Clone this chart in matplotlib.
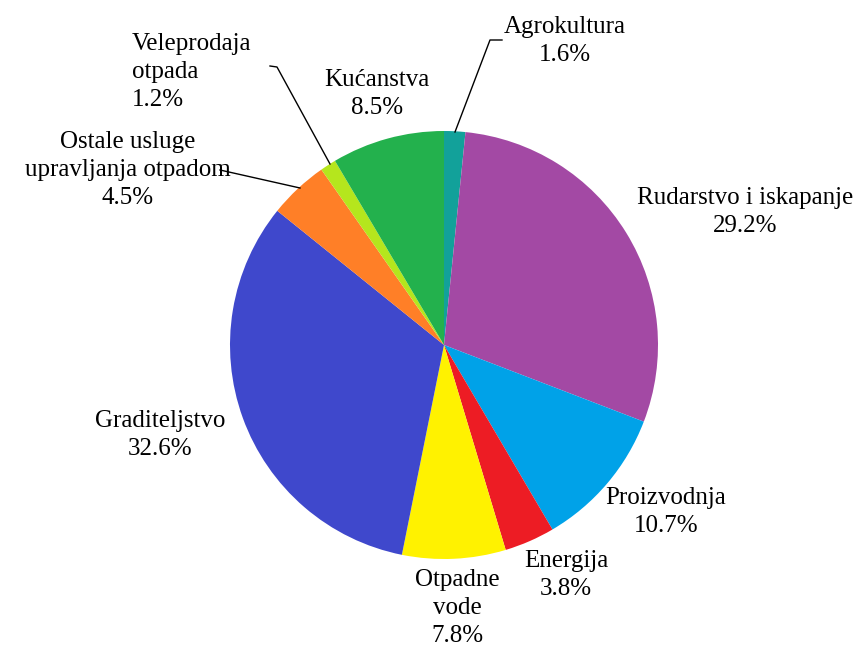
import matplotlib.pyplot as plt

# sectors, clockwise from the top
labels = ['Agrokultura', 'Rudarstvo i iskapanje', 'Proizvodnja', 'Energija',
          'Otpadne\nvode', 'Graditeljstvo', 'Ostale usluge\nupravljanja otpadom',
          'Veleprodaja\notpada', 'Kućanstva']
shares = [1.6, 29.2, 10.7, 3.8, 7.8, 32.6, 4.5, 1.2, 8.5]
colors = ['#12A19A', '#A349A4', '#00A2E8', '#ED1C24', '#FFF200',
          '#3F48CC', '#FF7F27', '#B5E61D', '#23B14D']

plt.rcParams['font.family'] = ['Liberation Serif', 'DejaVu Serif']

W, H = 858, 648
fig = plt.figure(figsize=(W / 100, H / 100), dpi=100)
ax = fig.add_axes([0, 0, 1, 1])

cx, cy, r = 444, H - 345, 214
ax.pie(shares, colors=colors, startangle=90, counterclock=False,
       center=(cx, cy), radius=r, frame=True,
       wedgeprops=dict(linewidth=0))
ax.set_xlim(0, W)
ax.set_ylim(0, H)
ax.set_aspect('equal')
ax.axis('off')

# label positions in pixels (x, y from top), alignment
pos = [
    (565, 41, 'center'),
    (745, 212, 'center'),
    (666, 512, 'center'),
    (566, 575, 'center'),
    (457, 608, 'center'),
    (160, 435, 'center'),
    (128, 170, 'center'),
    (132, 72, 'left'),
    (377, 94, 'center'),
]

for lab, val, (x, y, ha) in zip(labels, shares, pos):
    ax.text(x, H - y, f'{lab}\n{val}%', ha=ha, va='center',
            fontsize=18, linespacing=1.38, multialignment=ha)

# leader lines
def leader(pts):
    xs = [p[0] for p in pts]
    ys = [H - p[1] for p in pts]
    ax.plot(xs, ys, color='black', lw=1)

leader([(455, 132), (490, 40), (502, 40)])
leader([(330, 164), (277, 67), (270, 66)])
leader([(300, 188), (220, 170)])

fig.savefig('out.png', dpi=100)
